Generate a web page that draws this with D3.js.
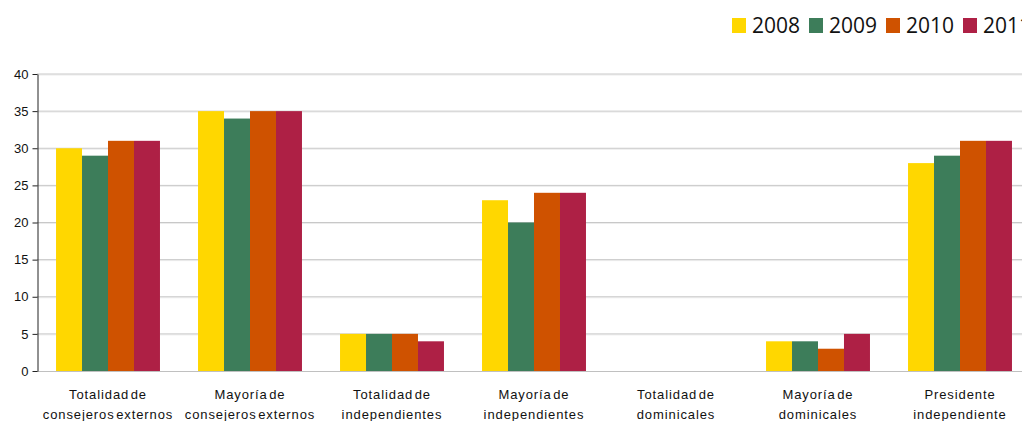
<!DOCTYPE html>
<html><head><meta charset="utf-8">
<script src="https://cdn.jsdelivr.net/npm/d3@7"></script>
<style>
html,body{margin:0;padding:0;background:#fff;overflow:hidden;}
svg{display:block;}
</style></head>
<body>
<svg id="chart" width="1022" height="421"></svg>
<script>
const categories = [
  ["Totalidad de","consejeros externos"],
  ["Mayoría de","consejeros externos"],
  ["Totalidad de","independientes"],
  ["Mayoría de","independientes"],
  ["Totalidad de","dominicales"],
  ["Mayoría de","dominicales"],
  ["Presidente","independiente"]
];
const seriesNames = ["2008","2009","2010","2011"];
const s2008 = [30,35,5,23,0,4,28];
const s2009 = [29,34,5,20,0,4,29];
const s2010 = [31,35,5,24,0,3,31];
const s2011 = [31,35,4,24,0,5,31];
const seriesValues = [s2008,s2009,s2010,s2011];
const colors = ["#FFD700","#3D7D5A","#CF5200","#AE2045"];
const yTicks = [0,5,10,15,20,25,30,35,40];

(function(){
const svg = d3.select("#chart");
const pLeft = 37, pTop = 74, pBottom = 371;
const catKeys = categories.map((c,i)=>i);
const x0 = d3.scaleBand().domain(catKeys).range([pLeft, pLeft+994]).paddingInner(0.268).paddingOuter(0.134);
const x1 = d3.scaleBand().domain(d3.range(seriesNames.length)).range([0, x0.bandwidth()]);
const y = d3.scaleLinear().domain([0,40]).range([pBottom, pTop]);

// gridlines
const grid = svg.append("g");
yTicks.filter(t=>t>0).forEach(t=>{
  grid.append("line").attr("x1",pLeft).attr("x2",1022).attr("y1",y(t)+1).attr("y2",y(t)+1)
    .attr("stroke","#ececec").attr("stroke-width",1);
  grid.append("line").attr("x1",pLeft).attr("x2",1022).attr("y1",y(t)).attr("y2",y(t))
    .attr("stroke","#c8c8c8").attr("stroke-width",1);
});

// bars
const groups = svg.append("g").selectAll("g").data(catKeys).join("g")
  .attr("transform", d=>`translate(${x0(d)},0)`);
groups.selectAll("rect").data(ci => seriesValues.map((s,si)=>({si, v:s[ci]})))
  .join("rect")
  .attr("x", d=>x1(d.si)).attr("width", x1.bandwidth())
  .attr("y", d=>y(d.v)).attr("height", d=>y(0)-y(d.v))
  .attr("fill", d=>colors[d.si]);

// bottom axis line
svg.append("line").attr("x1",pLeft).attr("x2",1022).attr("y1",pBottom+0.5).attr("y2",pBottom+0.5)
  .attr("stroke","#c0c0c0").attr("stroke-width",1);

// left axis
const yAxis = d3.axisLeft(y).tickValues(yTicks).tickSize(5).tickSizeOuter(0).tickPadding(4);
const ya = svg.append("g").attr("transform",`translate(${pLeft+0.5},0)`).call(yAxis);
ya.select(".domain").attr("stroke","#222");
ya.selectAll(".tick line").attr("stroke","#222");
ya.selectAll("text").attr("font-family","'Liberation Sans', Arial, sans-serif").attr("font-size",13).attr("fill","#111");

// category labels
const lab = svg.append("g").attr("font-family","'Liberation Sans', Arial, sans-serif")
  .attr("font-size",13).attr("fill","#111").attr("text-anchor","middle")
  .style("letter-spacing","0.9px").style("word-spacing","-3px");
categories.forEach((c,i)=>{
  const cx = x0(i)+x0.bandwidth()/2;
  lab.append("text").attr("x",cx).attr("y",399).text(c[0]);
  lab.append("text").attr("x",cx).attr("y",419).text(c[1]);
});

// legend
const leg = svg.append("g");
seriesNames.forEach((n,i)=>{
  const lx = 732 + i*77;
  leg.append("rect").attr("x",lx).attr("y",18).attr("width",14).attr("height",15).attr("fill",colors[i]);
  leg.append("text").attr("x",lx+20).attr("y",33).text(n)
    .attr("font-family","'Open Sans', sans-serif").attr("font-size",21).attr("fill","#111");
});
})();
</script>
</body></html>
